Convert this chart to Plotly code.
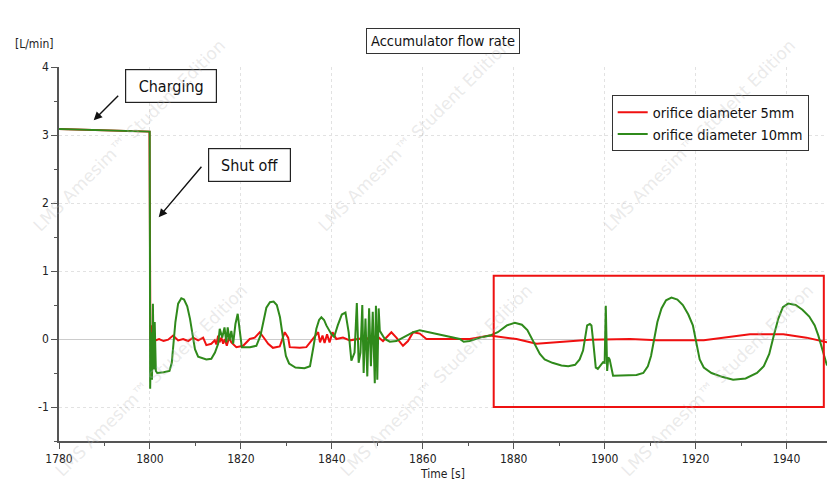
import plotly.graph_objects as go

# ---------------- data ----------------
red_name = "orifice diameter 5mm"
green_name = "orifice diameter 10mm"

red_t = [1780, 1790, 1799.9, 1800.1, 1800.3, 1800.5, 1800.8, 1801.2, 1802.0, 1803.0, 1804.0,
         1805.1, 1806.2, 1807.3, 1808.4, 1809.5, 1810.6, 1811.7, 1812.4, 1813.5, 1814.25, 1814.6,
         1815.0, 1815.3, 1815.7, 1816.1, 1816.45, 1816.9, 1817.4, 1817.9, 1819.0, 1820.5, 1821.95,
         1823.05, 1824.15, 1825.25, 1826.0, 1827.05, 1828.55, 1829.65, 1830.4, 1830.75, 1832.95,
         1834.4, 1835.5, 1836.25, 1837.0, 1837.4, 1837.95, 1838.4, 1838.95, 1839.5, 1840.15,
         1841.0, 1842.45, 1843.95, 1845.4, 1847.6, 1848.35, 1849.8, 1851.25, 1852.35, 1853.1,
         1854.2, 1855.65, 1856.75, 1857.9, 1859.35, 1860.8, 1863.0, 1870.35, 1874.75, 1880.6,
         1885.0, 1889.4, 1896.75, 1905.6, 1911.5, 1921.8, 1926.05, 1931.95, 1939.3, 1944.4, 1948.9]
red_v = [3.09, 3.07, 3.05, 0.0, 0.2, -0.08, 0.05, -0.02, 0.0, -0.03, -0.01,
         0.05, -0.02, 0.0, -0.03, 0.02, -0.02, 0.02, -0.09, -0.07, -0.02, -0.08,
         0.05, -0.05, 0.02, -0.07, 0.0, -0.10, 0.02, -0.05, -0.12, -0.10, 0.0,
         0.02, 0.10, 0.0, -0.07, -0.13, -0.11, 0.10, 0.02, -0.12, -0.13,
         -0.12, -0.02, 0.05, 0.10, -0.05, 0.05, -0.06, 0.07, -0.05, 0.10,
         0.0, 0.02, -0.02, 0.0, 0.02, -0.03, 0.05, -0.03, 0.05, 0.10,
         0.02, -0.10, -0.03, 0.10, 0.08, 0.0, 0.0, 0.0, 0.05, 0.0,
         -0.07, -0.05, -0.01, 0.0, -0.02, -0.02, 0.02, 0.07, 0.07, 0.02, -0.05]

green_t = [1780, 1790, 1799.95, 1800.05, 1800.25, 1800.45, 1800.65, 1800.85, 1801.05, 1801.3,
           1801.6, 1803.0, 1804.3, 1804.8, 1805.2, 1805.6, 1806.2, 1806.9, 1807.5, 1808.2,
           1808.8, 1809.3, 1809.9, 1810.6, 1812.4, 1813.5, 1814.3, 1815.0, 1815.35, 1815.9,
           1816.4, 1816.8, 1817.1, 1817.5, 1817.9, 1818.3, 1818.8, 1819.3, 1819.75, 1820.2,
           1822.0, 1823.4, 1824.3, 1825.0, 1825.6, 1826.4, 1827.2, 1827.9, 1828.6, 1829.3,
           1829.9, 1830.6, 1832.0, 1834.0, 1835.2, 1836.0, 1836.6, 1837.2, 1837.7, 1838.3,
           1838.8, 1839.9, 1840.5, 1841.3, 1842.2, 1843.0, 1843.7, 1844.3, 1845.0, 1845.5,
           1845.9, 1846.3, 1846.7, 1847.0, 1847.4, 1847.8, 1848.2, 1848.6, 1849.0, 1849.45,
           1849.7, 1850.0, 1850.3, 1850.55, 1851.65, 1852.75, 1854.2, 1855.65, 1857.9, 1859.35,
           1860.8, 1863.0, 1865.95, 1868.15, 1869.0, 1870.35, 1872.55, 1874.75, 1876.5, 1878.5,
           1880.25, 1881.8, 1883.0, 1884.0, 1884.8, 1885.75, 1886.8, 1888.5, 1890.5, 1892.0,
           1893.5, 1894.5, 1895.25, 1896.15, 1896.75, 1897.1, 1897.5, 1898.05, 1898.5, 1899.0,
           1899.65, 1900.0, 1900.25, 1900.55, 1900.8, 1901.1, 1901.85, 1907.0, 1908.5, 1909.5,
           1910.2, 1910.9, 1911.6, 1912.5, 1913.5, 1914.7, 1916.0, 1917.2, 1918.4, 1919.4,
           1920.2, 1920.9, 1921.8, 1923.5, 1926.0, 1928.25, 1931.0, 1933.5, 1935.0, 1936.2,
           1937.2, 1938.2, 1939.2, 1940.35, 1942.0, 1943.5, 1945.0, 1946.2, 1947.0, 1947.7,
           1948.9]
green_v = [3.09, 3.07, 3.05, -0.73, 0.1, -0.6, 0.52, -0.45, 0.25, -0.47,
           -0.5, -0.49, -0.47, -0.35, -0.1, 0.25, 0.52, 0.60, 0.58, 0.48,
           0.3, 0.1, -0.15, -0.26, -0.3, -0.29, -0.2, -0.07, 0.15, 0.02,
           0.17, -0.05, 0.17, -0.02, 0.12, -0.07, 0.22, 0.37, 0.1, -0.12,
           -0.12, -0.1, 0.05, 0.3, 0.46, 0.54, 0.55, 0.5, 0.32, 0.0,
           -0.25, -0.36, -0.42, -0.43, -0.4, -0.1, 0.15, 0.28, 0.32, 0.28,
           0.2, 0.07, 0.03, 0.2, 0.36, 0.39, 0.1, -0.32, -0.2, 0.53,
           -0.35, -0.2, 0.5, -0.5, 0.3, -0.55, 0.45, -0.4, 0.4, -0.65,
           0.49, -0.6, 0.45, 0.12, 0.0, -0.04, -0.03, 0.02, 0.10, 0.13,
           0.11, 0.07, 0.04, 0.0, -0.04, -0.03, 0.02, 0.05, 0.1, 0.2,
           0.24, 0.21, 0.13, 0.0, -0.12, -0.22, -0.3, -0.35, -0.39, -0.40,
           -0.38, -0.3, -0.17, 0.20, 0.22, 0.20, -0.05, -0.42, -0.44, -0.39,
           -0.34, -0.35, 0.49, -0.47, -0.27, -0.3, -0.54, -0.53, -0.5, -0.4,
           -0.25, 0.0, 0.25, 0.45, 0.57, 0.61, 0.58, 0.5, 0.36, 0.2,
           -0.05, -0.3, -0.42, -0.5, -0.56, -0.6, -0.58, -0.5, -0.4, -0.22,
           0.05, 0.3, 0.47, 0.52, 0.5, 0.43, 0.33, 0.2, 0.05, -0.1,
           -0.39]

x_ticks = [1780, 1800, 1820, 1840, 1860, 1880, 1900, 1920, 1940]
y_ticks = [-1, 0, 1, 2, 3, 4]
highlight_x = [1875.6, 1948.2]
highlight_y = [-1.0, 0.93]

FONT = "DejaVu Sans Condensed, DejaVu Sans, sans-serif"
RED = "#f01010"
GREEN = "#2f8a1b"

fig = go.Figure()
fig.add_trace(go.Scatter(x=red_t, y=red_v, mode="lines", name=red_name,
                         line=dict(color=RED, width=2)))
fig.add_trace(go.Scatter(x=green_t, y=green_v, mode="lines", name=green_name,
                         line=dict(color=GREEN, width=2)))

fig.add_shape(type="rect", xref="x", yref="y",
              x0=highlight_x[0], x1=highlight_x[1], y0=highlight_y[0], y1=highlight_y[1],
              line=dict(color="#ee1111", width=2), fillcolor="rgba(0,0,0,0)")

axis_common = dict(showline=True, linecolor="#555555", linewidth=1.5,
                   ticks="outside", ticklen=6, tickwidth=1.2, tickcolor="#555555",
                   showgrid=True, gridcolor="#e2e2e2", griddash="dot", gridwidth=1,
                   tickfont=dict(family=FONT, size=12, color="#222222"))

fig.update_xaxes(range=[1780, 1948.9], tickvals=x_ticks, zeroline=False,
                 minor=dict(dtick=10, tick0=1780, ticks="outside", ticklen=3,
                            tickcolor="#555555", showgrid=False),
                 title=dict(text="Time [s]", font=dict(family=FONT, size=12, color="#222222"),
                            standoff=4),
                 **axis_common)
fig.update_yaxes(range=[-1.5, 4], tickvals=y_ticks, ticktext=[str(v) for v in y_ticks],
                 zeroline=True, zerolinecolor="#cccccc", zerolinewidth=1,
                 minor=dict(dtick=0.5, tick0=0, ticks="outside", ticklen=3,
                            tickcolor="#555555", showgrid=False),
                 **axis_common)

C = dict(xanchor="center", yanchor="middle", xref="paper", yref="paper")

annotations = [
    dict(text="Accumulator flow rate", x=(443 - 59.3) / 768, y=1 + (66.7 - 40.5) / 374,
         showarrow=False, font=dict(family=FONT, size=14.5, color="#111111"),
         bordercolor="#333333", borderwidth=1, borderpad=4, bgcolor="white", **C),
    dict(text="[L/min]", x=(34 - 59.3) / 768, y=1 + (66.7 - 44) / 374,
         showarrow=False, font=dict(family=FONT, size=12, color="#222222"), **C),
    dict(text="Charging", x=(171.5 - 59.3) / 768, y=1 - (85.5 - 66.7) / 374,
         showarrow=False, font=dict(family=FONT, size=16, color="#111111"),
         bordercolor="#222222", borderwidth=1.2, width=88, height=30, borderpad=1,
         bgcolor="white", **C),
    dict(text="Shut off", x=(250 - 59.3) / 768, y=1 - (164.5 - 66.7) / 374,
         showarrow=False, font=dict(family=FONT, size=16, color="#111111"),
         bordercolor="#222222", borderwidth=1.2, width=79, height=30, borderpad=1,
         bgcolor="white", **C),
    dict(text="", x=(94 - 59.3) / 768, y=1 - (120 - 66.7) / 374, xref="paper", yref="paper",
         showarrow=True, ax=26, ay=-26, arrowhead=2, arrowsize=1.2, arrowwidth=1.4,
         arrowcolor="#111111"),
    dict(text="", x=(159 - 59.3) / 768, y=1 - (217 - 66.7) / 374, xref="paper", yref="paper",
         showarrow=True, ax=44, ay=-52, arrowhead=2, arrowsize=1.2, arrowwidth=1.4,
         arrowcolor="#111111"),
]

wm_centers = [(130, 135), (415, 135), (700, 135), (152, 380), (437, 380), (718, 380)]
for (px, py) in wm_centers:
    annotations.append(dict(text="LMS Amesim™ Student Edition",
                            x=(px - 59.3) / 768, y=1 - (py - 66.7) / 374,
                            showarrow=False, textangle=-45,
                            font=dict(family="DejaVu Sans, sans-serif", size=17,
                                      color="rgba(185,185,185,0.3)"), **C))

fig.update_layout(
    width=827, height=487,
    margin=dict(l=59, r=0, t=67, b=46, pad=0),
    paper_bgcolor="white", plot_bgcolor="white",
    showlegend=True,
    legend=dict(x=(612 - 59.3) / 768, y=1 - (95 - 66.7) / 374, xanchor="left", yanchor="top",
                bgcolor="white", bordercolor="#333333", borderwidth=1,
                font=dict(family=FONT, size=14.5, color="#111111"), itemwidth=30,
                tracegroupgap=0),
    annotations=annotations,
)

fig.write_html("out.html")
